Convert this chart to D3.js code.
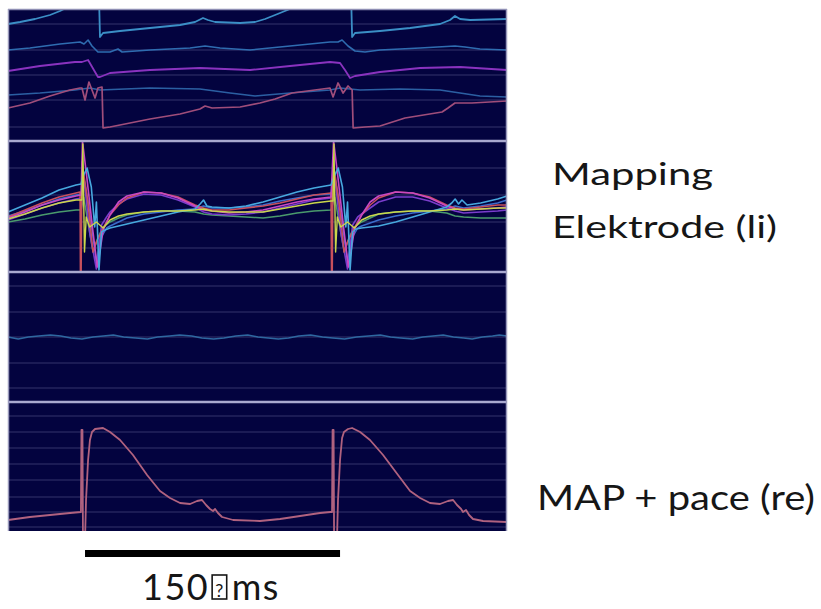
<!DOCTYPE html>
<html>
<head>
<meta charset="utf-8">
<script src="https://cdn.jsdelivr.net/npm/d3@7"></script>
<style>
    body { margin: 0; background: #fff; }
    svg text { font-family: Lato, "Open Sans", "DejaVu Sans", sans-serif; fill: #161616; }
</style>
</head>
<body>
<div id="chart"></div>
<script>
// time axis in ms, amplitude in screen units per channel (0 = bottom of its strip)
const timeDomain = [0, 293.5]
const stimTimes = [43.5, 191.2]
const scaleBarStart = 45.3
const scaleBarMs = 150

// strip 1 - five bipolar signals
const ch1A = [[0,117],[7.1,119],[15.9,122],[24.7,126],[30.6,130],[36.5,135],[41.2,139],[43.5,146],[53.5,146],[54.1,104],[55.9,108],[65.9,110],[83.5,113],[101.2,116],[110,119],[114.7,123],[117.6,121],[121.8,119],[136.5,118],[145.3,119],[151.2,122],[157.1,126],[162.9,130],[168.8,134],[177.6,138],[189.4,146],[201.8,146],[202.4,104],[204.1,108],[218.8,110],[236.5,113],[254.1,117],[260,121],[262.9,125],[265.9,122],[271.8,121],[293.5,122]]
const ch1B = [[0,91],[12.9,93],[30.6,97],[42.4,99],[44.7,97],[47.1,101],[49.4,95],[52.9,89],[60,89],[64.7,92],[67.1,89],[83.5,91],[107.1,93],[115.9,95],[124.7,93],[142.4,91],[165.9,95],[189.4,99],[194.1,99],[196.5,101],[200,95],[204.1,90],[210,89],[218.8,91],[242.4,93],[262.9,95],[268.8,94],[277.6,92],[293.5,91]]
const ch1C = [[0,70],[18.8,75],[39.4,79],[43.5,79],[47.1,81],[52.9,64],[54.1,64],[60,68],[83.5,71],[112.9,73],[142.4,71],[165.9,75],[189.4,79],[195.3,78],[198.2,71],[201.2,63],[204.1,65],[218.8,69],[242.4,73],[265.9,74],[293.5,71]]
const ch1D = [[0,46],[18.8,48],[39.4,51],[43.5,52],[48.2,53],[54.1,51],[83.5,53],[112.9,52],[130.6,48],[145.3,45],[165.9,48],[189.4,51],[195.3,53],[207.1,51],[230.6,52],[254.1,51],[265.9,48],[277.6,45],[293.5,44]]
const ch1E = [[0,33],[12.9,38],[24.7,45],[36.5,51],[42.4,53],[43.5,53],[45.3,41],[47.6,59],[51.2,43],[52.9,53],[55.3,54],[55.9,13],[60,14],[83.5,22],[101.2,27],[112.9,32],[115.9,35],[120,33],[136.5,34],[148.2,38],[157.1,42],[167.1,48],[189.4,53],[191.2,44],[194.1,58],[197.1,48],[200,55],[202.4,51],[203,13],[210,14],[218.8,15],[233.5,23],[255.3,29],[258.8,33],[262.9,38],[272.9,38],[293.5,40]]

// strip 2 - mapping electrode (li)
const ch2Cyan = [[0,60],[10,67],[20,74],[30,82],[40,87],[43,88],[44,95],[46.5,104],[49,85],[51,45],[52,70],[53.5,2],[55,40],[57,42],[60,44],[65,46],[70,48],[80,52],[90,56],[100,60],[110,63],[113,68],[115,72],[117,66],[120,65],[130,64],[140,66],[150,70],[160,75],[170,80],[180,84],[190,87],[191.7,95],[194.2,104],[196.7,85],[198.7,45],[199.7,70],[201.2,2],[202.7,40],[204.7,43],[208,44],[213,45],[218,46],[228,50],[238,55],[248,60],[258,65],[261,69],[263,73],[265,68],[267,72],[270,67],[278,69],[288,73],[293.5,76]]
const ch2Blue = [[0,56],[10,61],[20,67],[30,73],[40,77],[43,78],[44,100],[48,60],[52,10],[55,35],[58,44],[60,46],[65,50],[70,54],[80,58],[90,60],[100,62],[110,63],[115,66],[120,64],[130,64],[140,65],[150,67],[160,71],[170,74],[180,77],[190,78],[191.7,100],[195.7,60],[199.7,10],[202.7,35],[205.7,44],[208,46],[213,49],[218,52],[228,56],[238,59],[248,61],[258,63],[263,66],[268,64],[278,66],[288,69],[293.5,72]]
const ch2Red = [[0,55],[10,62],[20,69],[30,75],[40,79],[42.4,80],[42.6,0],[43,0],[43.5,110],[47,70],[50,20],[52,30],[56,44],[60,57],[65,67],[70,74],[80,80],[90,79],[100,75],[110,67],[115,64],[120,62],[130,62],[140,64],[150,66],[160,69],[170,73],[180,77],[190,79],[190.3,0],[190.7,0],[191.2,110],[194.7,70],[197.7,20],[199.7,30],[203.7,44],[208,57],[213,67],[218,74],[228,80],[238,79],[248,75],[258,67],[263,64],[268,63],[278,65],[288,67],[293.5,67]]
const ch2Magenta = [[0,54],[10,60],[20,67],[30,72],[40,76],[43,77],[43.8,131],[46,100],[50,40],[52.5,5],[54,20],[56,42],[60,57],[65,70],[70,76],[80,80],[90,79],[100,74],[110,66],[115,62],[120,61],[130,59],[140,60],[150,62],[160,66],[170,70],[180,73],[190,75],[191.5,131],[193.7,100],[197.7,40],[200.2,5],[201.7,20],[203.7,42],[208,57],[213,70],[218,76],[228,80],[238,79],[248,74],[258,66],[263,63],[268,62],[278,63],[288,64],[293.5,65]]
const ch2Purple = [[0,52],[10,58],[20,64],[30,69],[40,73],[43,74],[44.5,97],[48,40],[52,3],[55,47],[58,55],[60,60],[65,68],[70,73],[80,78],[90,77],[100,72],[110,65],[115,60],[120,58],[130,57],[140,58],[150,60],[160,64],[170,68],[180,72],[190,74],[192.2,97],[195.7,40],[199.7,3],[202.7,47],[205.7,55],[208,58],[213,64],[218,70],[228,75],[238,75],[248,71],[258,64],[263,61],[268,59],[278,60],[288,61],[293.5,62]]
const ch2Yellow = [[0,53],[10,58],[20,64],[30,69],[40,72],[43.5,72],[44,128],[45,20],[46,55],[48,45],[52,50],[56,44],[60,52],[65,56],[70,58],[80,60],[90,61],[100,61],[110,62],[115,63],[120,61],[130,60],[140,60],[150,60],[160,63],[170,66],[180,69],[190,71],[191.2,71],[191.7,128],[192.7,20],[193.7,55],[195.7,45],[199.7,50],[203.7,44],[208,52],[213,56],[218,58],[228,60],[238,61],[248,61],[258,62],[263,63],[268,62],[278,63],[288,64],[293.5,64]]
const ch2Green = [[0,50],[10,53],[20,57],[30,60],[40,62],[43,62],[44.5,75],[47,50],[50,20],[53,35],[56,45],[60,50],[65,54],[70,57],[80,60],[90,61],[100,61],[110,60],[115,58],[120,57],[130,56],[140,55],[150,54],[160,56],[170,59],[180,61],[190,62],[192.2,75],[194.7,50],[197.7,20],[200.7,35],[203.7,45],[208,50],[213,54],[218,58],[228,60],[238,61],[248,61],[258,59],[263,56],[268,55],[278,54],[288,54],[293.5,54]]

// strip 3 - quiet channel
const ch3 = [[0,65],[6,63],[12,65],[18,66],[25,67],[31,66],[37,64],[43.5,63],[50,65],[56,66],[62,67],[68,65],[75,64],[82,63],[88,65],[95,66],[101,67],[108,66],[114,64],[121,63],[127,64],[134,66],[141,67],[147,65],[153,64],[159,63],[165,64],[171,66],[178,67],[185,65],[191,64],[198,63],[205,65],[212,66],[219,67],[225,65],[231,64],[238,63],[244,65],[250,66],[256,67],[262,65],[268,64],[273,63],[279,65],[285,66],[289,67],[293.5,66]]

// strip 4 - MAP + pace (re)
const ch4 = [[0,11],[12.9,14],[24.7,16],[36.5,18],[42.9,19],[43.2,101],[43.8,101],[44.1,-9],[45.3,-9],[45.9,31],[47.1,71],[48.2,91],[49.4,99],[51.2,102],[55.9,103],[60,99],[65.9,91],[73.5,76],[81.8,56],[89.4,40],[95.3,33],[101.2,28],[107.1,27],[111.2,30],[114.1,31],[116.5,26],[118.8,22],[120.6,20],[121.8,22],[123.5,18],[125.9,14],[132.4,11],[148.2,10],[160,12],[171.8,15],[183.5,18],[189.7,19],
    [190.6,19],[190.9,101],[191.5,101],[191.8,-9],[193.5,-9],[194.1,31],[195.3,71],[196.5,93],[197.6,99],[200,102],[202.4,103],[207.1,99],[212.9,91],[220.6,76],[229.4,56],[236.5,40],[242.4,33],[248.2,28],[254.1,27],[258.8,30],[261.8,31],[264.1,26],[266.5,22],[267.6,19],[269.4,21],[271.2,16],[273.5,12],[279.4,10],[293.5,9]]

// faint horizontal grid per strip
const grid1 = [14, 41, 66, 91, 117]
const grid2 = [24, 50, 77, 104]
const grid3 = [14, 39, 65, 90, 116]
const grid4 = [4, 19, 34, 51, 67, 83, 99, 115]

const labelTop = ["Mapping", "Elektrode (li)"]
const labelBottom = "MAP + pace (re)"
const scaleLabel = ["150", "?", "ms"]

const width = 821, height = 609

let svg = d3.select("#chart").append("svg")
    .attr("width", width)
    .attr("height", height)

let defs = svg.append("defs")
defs.append("filter").attr("id", "soft")
    .append("feGaussianBlur").attr("stdDeviation", 0.45)

let x = d3.scaleLinear().domain(timeDomain).range([8, 507])

// strips: top, bottom, traces [data, colour, width], grid
let strips = [
    {top: 9, bottom: 141, grid: grid1, traces: [
        [ch1D, "#2c5fa2", 1.6], [ch1B, "#2f6cb0", 1.6], [ch1C, "#8a33bf", 1.8],
        [ch1E, "#a04e7a", 1.7], [ch1A, "#3b8fc6", 1.8]]},
    {top: 141, bottom: 272, grid: grid2, traces: [
        [ch2Green, "#4a9a6c", 1.5], [ch2Blue, "#3a6ccb", 1.5], [ch2Purple, "#7a3ccb", 1.6],
        [ch2Red, "#c8505c", 1.6], [ch2Magenta, "#c848c2", 1.6], [ch2Cyan, "#46a8de", 1.6],
        [ch2Yellow, "#cad64c", 1.4]]},
    {top: 272, bottom: 402, grid: grid3, traces: [[ch3, "#2e67a0", 1.5]]},
    {top: 402, bottom: 531, grid: grid4, traces: [[ch4, "#b0627f", 1.8]]}
]

// background of the recording window
svg.append("rect")
    .attr("x", 8).attr("y", 9)
    .attr("width", 499).attr("height", 522)
    .attr("fill", "#03033f")

strips.forEach((s, i) => {
    let y = d3.scaleLinear()
        .domain([0, s.bottom - s.top])
        .range([s.bottom, s.top])

    defs.append("clipPath").attr("id", "clip" + i)
        .append("rect")
        .attr("x", 8).attr("y", s.top)
        .attr("width", 499).attr("height", s.bottom - s.top)

    let g = svg.append("g").attr("clip-path", `url(#clip${i})`)

    g.selectAll("line.grid")
        .data(s.grid)
        .join("line")
        .attr("class", "grid")
        .attr("x1", x(timeDomain[0])).attr("x2", x(timeDomain[1]))
        .attr("y1", d => y(d)).attr("y2", d => y(d))
        .attr("stroke", "#24245e")
        .attr("stroke-width", 1.4)

    // stimulus artefact crosses the top strip
    if (i === 0) {
        g.selectAll("line.stim")
            .data(stimTimes)
            .join("line")
            .attr("class", "stim")
            .attr("x1", d => x(d)).attr("x2", d => x(d))
            .attr("y1", s.top).attr("y2", s.bottom)
            .attr("stroke", "#b9d2ea")
            .attr("stroke-width", 2.2)
            .attr("filter", "url(#soft)")
    }

    let line = d3.line()
        .x(d => x(d[0]))
        .y(d => y(d[1]))

    g.selectAll("path.trace")
        .data(s.traces)
        .join("path")
        .attr("class", "trace")
        .attr("d", d => line(d[0]))
        .attr("fill", "none")
        .attr("stroke", d => d[1])
        .attr("stroke-width", d => d[2])
        .attr("stroke-linejoin", "round")
        .attr("filter", "url(#soft)")
})

// strip separators and frame
svg.selectAll("line.sep")
    .data([141, 272, 402])
    .join("line")
    .attr("class", "sep")
    .attr("x1", 8).attr("x2", 507)
    .attr("y1", d => d).attr("y2", d => d)
    .attr("stroke", "#a9a9d0")
    .attr("stroke-width", 2.4)

svg.append("line").attr("x1", 8).attr("x2", 507).attr("y1", 9.5).attr("y2", 9.5)
    .attr("stroke", "#8e8eb4").attr("stroke-width", 1.5)
svg.append("line").attr("x1", 8.5).attr("x2", 8.5).attr("y1", 9).attr("y2", 531)
    .attr("stroke", "#9a9abc").attr("stroke-width", 1.5)
svg.append("line").attr("x1", 506.5).attr("x2", 506.5).attr("y1", 9).attr("y2", 531)
    .attr("stroke", "#9a9abc").attr("stroke-width", 1.5)

// labels on the right (glyphs are stretched wide in the original)
svg.append("text").text(labelTop[0])
    .attr("x", 552).attr("y", 185)
    .attr("font-size", 31)
    .attr("textLength", 161).attr("lengthAdjust", "spacingAndGlyphs")
svg.append("text").text(labelTop[1])
    .attr("x", 552).attr("y", 238)
    .attr("font-size", 31)
    .attr("textLength", 225).attr("lengthAdjust", "spacingAndGlyphs")
svg.append("text").text(labelBottom)
    .attr("x", 537).attr("y", 510)
    .attr("font-size", 34)
    .attr("textLength", 278).attr("lengthAdjust", "spacingAndGlyphs")

// scale bar
svg.append("rect")
    .attr("x", x(scaleBarStart))
    .attr("y", 550)
    .attr("width", x(scaleBarStart + scaleBarMs) - x(scaleBarStart))
    .attr("height", 7)
    .attr("fill", "#000")

let sl = svg.append("text")
    .attr("x", 142).attr("y", 600)
    .attr("font-size", 36)
    .attr("letter-spacing", 1.5)
sl.append("tspan").text(scaleLabel[0])
sl.append("tspan").text(scaleLabel[1]).attr("dx", 6).attr("dy", -3).attr("font-size", 18)
sl.append("tspan").text(scaleLabel[2]).attr("dx", 7).attr("dy", 3)

// the unknown-glyph box around the "?"
let ext = sl.node().getExtentOfChar(3)
svg.append("rect")
    .attr("x", ext.x - 3).attr("y", 575)
    .attr("width", ext.width + 5).attr("height", 24)
    .attr("fill", "none")
    .attr("stroke", "#161616")
    .attr("stroke-width", 1.6)
</script>
</body>
</html>
